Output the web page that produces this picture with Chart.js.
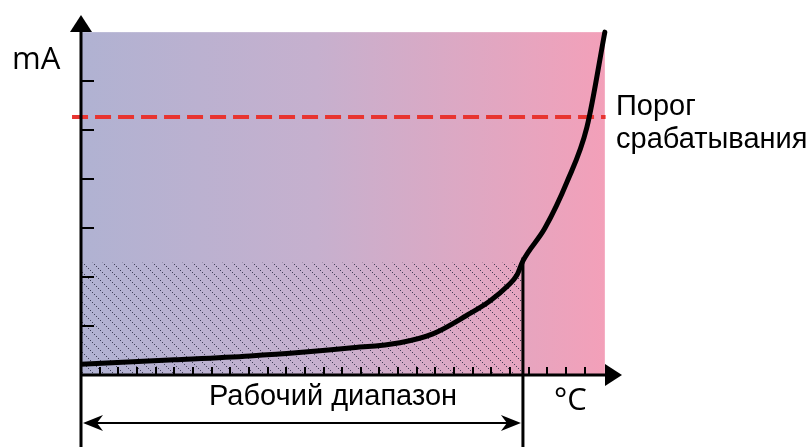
<!DOCTYPE html>
<html>
<head>
<meta charset="utf-8">
<script src="https://cdn.jsdelivr.net/npm/chart.js@4/dist/chart.umd.min.js"></script>
<style>
html,body{margin:0;padding:0;background:#fff;}
canvas{display:block;}
</style>
</head>
<body>
<canvas id="c" width="811" height="447"></canvas>
<script>
// ---- data (temperature in tick units, current in tick units) ----
const curveX = [0, 5, 9.06, 12, 14.4, 17.1, 18.86, 20.69, 21.92, 22.88, 23.37, 23.69, 24.87, 26.05, 27.12, 28.08];
const curveY = [0.22, 0.31, 0.39, 0.47, 0.55, 0.66, 0.84, 1.22, 1.51, 1.82, 2.04, 2.33, 3.0, 3.94, 5.06, 7.0];
const xTicks = [1,2,3,4,5,6,7,8,9,10,11,12,13,14,15,16,17,18,19,20,21,22,23,24,25,26,27];
const yTicks = [1,2,3,4,5,6];
const threshold = 5.27;
const rangeStart = 0;
const rangeEnd = 23.69;
const hatchTop = 2.29;
const xMax = 29, yMax = 7.35;
const bgXEnd = 28.08, bgYEnd = 7.0;
const labels = {
  yUnit: 'mA',
  xUnit: '°C',
  threshold: ['Порог', 'срабатывания'],
  range: 'Рабочий диапазон'
};

const ctx0 = document.getElementById('c').getContext('2d');
const hatch = ctx0.createPattern((function(){
  const t = document.createElement('canvas');
  t.width = 10; t.height = 10;
  const g = t.getContext('2d');
  g.fillStyle = 'rgba(45,45,70,0.85)';
  for (let i = 0; i < 10; i += 2) g.fillRect(i, i, 1, 1);
  return t;
})(), 'repeat');

const pts = (xs, ys) => xs.map((x, i) => ({x, y: ys[i]}));

const decor = {
  id: 'decor',
  beforeDatasetsDraw(chart) {
    const {ctx, scales: {x, y}} = chart;
    const x0 = x.getPixelForValue(0), x1 = x.getPixelForValue(bgXEnd);
    const y0 = y.getPixelForValue(0), y1 = y.getPixelForValue(bgYEnd);
    const gr = ctx.createLinearGradient(x0, 0, x1, 0);
    gr.addColorStop(0, 'rgb(176,178,210)');
    gr.addColorStop(0.45, 'rgb(198,176,206)');
    gr.addColorStop(1, 'rgb(243,160,185)');
    ctx.save();
    ctx.fillStyle = gr;
    ctx.fillRect(x0, y1, x1 - x0, y0 - y1);
    ctx.restore();
  },
  afterDatasetsDraw(chart) {
    const {ctx, scales: {x, y}, chartArea: ca} = chart;
    const ox = x.getPixelForValue(0), oy = y.getPixelForValue(0);
    ctx.save();
    ctx.strokeStyle = '#000'; ctx.fillStyle = '#000';
    // ticks
    ctx.lineWidth = 2;
    yTicks.forEach(v => {
      const py = Math.round(y.getPixelForValue(v));
      ctx.beginPath(); ctx.moveTo(ox, py); ctx.lineTo(ox + 13, py); ctx.stroke();
    });
    xTicks.forEach(v => {
      const px = Math.round(x.getPixelForValue(v));
      ctx.beginPath(); ctx.moveTo(px, oy); ctx.lineTo(px, oy - 8); ctx.stroke();
    });
    // axes
    ctx.lineWidth = 3;
    ctx.beginPath(); ctx.moveTo(ox, chart.height); ctx.lineTo(ox, ca.top + 15); ctx.stroke();
    ctx.beginPath(); ctx.moveTo(ox, oy); ctx.lineTo(ca.right - 15, oy); ctx.stroke();
    // arrowheads
    ctx.beginPath(); ctx.moveTo(ox, ca.top); ctx.lineTo(ox - 11, ca.top + 17); ctx.lineTo(ox + 11, ca.top + 17); ctx.closePath(); ctx.fill();
    ctx.beginPath(); ctx.moveTo(ca.right, oy); ctx.lineTo(ca.right - 17, oy - 11); ctx.lineTo(ca.right - 17, oy + 11); ctx.closePath(); ctx.fill();
    // working range arrow
    const ax0 = x.getPixelForValue(rangeStart) + 2, ax1 = x.getPixelForValue(rangeEnd) - 2, ay = 423;
    ctx.lineWidth = 2;
    ctx.beginPath(); ctx.moveTo(ax0 + 6, ay); ctx.lineTo(ax1 - 6, ay); ctx.stroke();
    function head(tx, dir) {
      ctx.beginPath();
      ctx.moveTo(tx, ay);
      ctx.lineTo(tx + dir * 20, ay - 8);
      ctx.lineTo(tx + dir * 14, ay);
      ctx.lineTo(tx + dir * 20, ay + 8);
      ctx.closePath(); ctx.fill();
    }
    head(ax0, 1); head(ax1, -1);
    // texts
    ctx.fillStyle = '#000';
    ctx.textBaseline = 'alphabetic';
    ctx.font = '31px "Open Sans"';
    ctx.textAlign = 'left';
    ctx.fillText(labels.yUnit, 12, 69);
    ctx.font = '31px "Open Sans"';
    ctx.fillText(labels.xUnit, 554, 410);
    ctx.font = '29px "Liberation Sans", Arial';
    ctx.fillText(labels.threshold[0], 616, 115);
    ctx.fillText(labels.threshold[1], 616, 148);
    ctx.textAlign = 'center';
    ctx.fillText(labels.range, 333, 405);
    ctx.restore();
  }
};

new Chart(ctx0, {
  type: 'line',
  data: {
    datasets: [
      {
        data: pts([rangeStart, rangeEnd], [hatchTop, hatchTop]),
        fill: 'origin', backgroundColor: hatch, borderWidth: 0, pointRadius: 0, order: 4
      },
      {
        data: pts([-0.48, 28.12], [threshold, threshold]),
        borderColor: 'rgb(232,52,48)', borderWidth: 4, borderDash: [16, 7],
        pointRadius: 0, clip: false, order: 3
      },
      {
        data: pts(curveX, curveY),
        borderColor: '#000', borderWidth: 5, pointRadius: 0,
        cubicInterpolationMode: 'monotone',
        borderJoinStyle: 'round', borderCapStyle: 'round', order: 2
      },
      {
        data: pts([rangeEnd, rangeEnd], [2.4, -1.6]),
        borderColor: '#000', borderWidth: 3, pointRadius: 0, clip: false, order: 1
      }
    ]
  },
  options: {
    responsive: false,
    animation: false,
    devicePixelRatio: 1,
    layout: {padding: {left: 81, right: 189, top: 15, bottom: 72}},
    plugins: {legend: {display: false}, tooltip: {enabled: false}},
    scales: {
      x: {type: 'linear', min: 0, max: xMax, display: false},
      y: {type: 'linear', min: 0, max: yMax, display: false}
    }
  },
  plugins: [decor]
});
</script>
</body>
</html>
